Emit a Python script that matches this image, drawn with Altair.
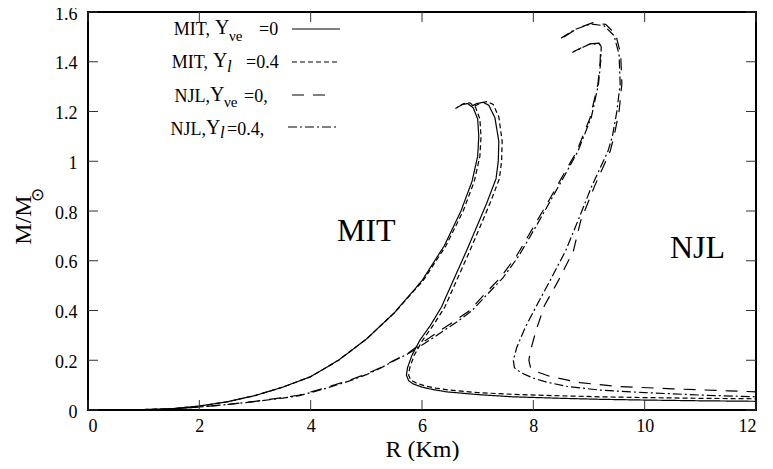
import altair as alt
import pandas as pd

FONT = "Liberation Serif"

# ---------------- data ----------------
# MIT, Y_nue = 0 (solid)
mit0_left_R = [1.0, 1.5, 2.0, 2.5, 3.0, 3.5, 4.0, 4.5, 5.0, 5.5, 6.0, 6.4, 6.7, 6.9, 7.0, 7.02, 7.0, 6.92, 6.82, 6.72, 6.6]
mit0_left_M = [0.002, 0.005, 0.016, 0.033, 0.058, 0.092, 0.134, 0.2, 0.285, 0.39, 0.52, 0.66, 0.8, 0.92, 1.02, 1.1, 1.17, 1.215, 1.232, 1.228, 1.212]
mit0_right_R = [6.88, 6.98, 7.1, 7.2, 7.31, 7.38, 7.37, 7.33, 7.16, 6.98, 6.8, 6.58, 6.35, 6.15, 5.96, 5.82, 5.74, 5.72, 5.76, 5.84, 6.0, 6.2, 6.44, 7.0, 7.63, 8.5, 9.2, 10.0, 11.0, 12.0]
mit0_right_M = [1.22, 1.232, 1.237, 1.225, 1.175, 1.08, 1.0, 0.93, 0.83, 0.735, 0.64, 0.53, 0.414, 0.34, 0.28, 0.22, 0.17, 0.14, 0.118, 0.105, 0.092, 0.082, 0.073, 0.062, 0.053, 0.047, 0.043, 0.04, 0.037, 0.035]

# MIT, Y_l = 0.4 (short dash)
mit4_left_R = [1.0, 1.5, 2.0, 2.5, 3.0, 3.5, 4.0, 4.5, 5.0, 5.5, 6.02, 6.43, 6.74, 6.94, 7.04, 7.06, 7.04, 6.96, 6.86, 6.75, 6.63]
mit4_left_M = [0.002, 0.005, 0.016, 0.033, 0.058, 0.092, 0.134, 0.2, 0.285, 0.39, 0.52, 0.66, 0.8, 0.92, 1.02, 1.1, 1.17, 1.218, 1.235, 1.232, 1.216]
mit4_right_R = [6.95, 7.05, 7.17, 7.28, 7.38, 7.44, 7.43, 7.39, 7.22, 7.04, 6.86, 6.64, 6.41, 6.2, 6.01, 5.86, 5.78, 5.76, 5.8, 5.9, 6.05, 6.25, 6.5, 7.0, 7.63, 8.5, 9.2, 10.0, 11.0, 12.0]
mit4_right_M = [1.222, 1.234, 1.24, 1.228, 1.178, 1.08, 1.0, 0.93, 0.83, 0.735, 0.64, 0.53, 0.414, 0.34, 0.28, 0.22, 0.17, 0.14, 0.12, 0.108, 0.097, 0.088, 0.08, 0.07, 0.063, 0.057, 0.053, 0.05, 0.047, 0.045]

# NJL, Y_nue = 0 (long dash)
njl0_left_R = [1.0, 1.5, 2.0, 2.5, 3.0, 3.5, 3.8, 4.2, 4.7, 5.0, 5.25, 5.5, 5.75, 6.0, 6.3, 6.6, 6.86, 7.1, 7.4, 7.7, 8.0, 8.3, 8.55, 8.78, 9.02, 9.16, 9.2, 9.21, 9.18, 9.0, 8.72]
njl0_left_M = [0.001, 0.004, 0.012, 0.022, 0.035, 0.05, 0.06, 0.085, 0.12, 0.145, 0.17, 0.2, 0.228, 0.27, 0.315, 0.36, 0.40, 0.46, 0.53, 0.62, 0.735, 0.85, 0.95, 1.04, 1.175, 1.31, 1.4, 1.46, 1.475, 1.472, 1.44]
njl0_right_R = [8.55, 8.8, 9.07, 9.3, 9.48, 9.57, 9.59, 9.54, 9.45, 9.38, 9.1, 8.85, 8.72, 8.45, 8.2, 8.05, 7.95, 7.92, 7.95, 8.05, 8.3, 8.84, 9.5, 10.5, 11.5, 12.0]
njl0_right_M = [1.50, 1.535, 1.557, 1.55, 1.51, 1.43, 1.31, 1.2, 1.1, 1.04, 0.9, 0.76, 0.64, 0.52, 0.42, 0.32, 0.24, 0.2, 0.17, 0.155, 0.135, 0.11, 0.095, 0.085, 0.077, 0.073]

# NJL, Y_l = 0.4 (dash-dot)
njl4_left_R = [1.0, 1.5, 2.0, 2.5, 3.0, 3.5, 3.8, 4.2, 4.7, 5.0, 5.25, 5.5, 5.75, 6.05, 6.35, 6.65, 6.9, 7.15, 7.45, 7.74, 8.04, 8.33, 8.58, 8.8, 9.04, 9.17, 9.21, 9.22, 9.19, 9.0, 8.7]
njl4_left_M = [0.001, 0.004, 0.012, 0.022, 0.034, 0.048, 0.058, 0.082, 0.117, 0.142, 0.168, 0.198, 0.226, 0.268, 0.313, 0.358, 0.40, 0.46, 0.53, 0.62, 0.735, 0.85, 0.95, 1.04, 1.175, 1.31, 1.4, 1.46, 1.472, 1.47, 1.437]
njl4_right_R = [8.5, 8.75, 9.03, 9.27, 9.45, 9.54, 9.56, 9.5, 9.42, 9.34, 9.05, 8.8, 8.58, 8.3, 8.06, 7.85, 7.7, 7.64, 7.66, 7.78, 8.0, 8.24, 8.6, 9.2, 10.0, 11.0, 12.0]
njl4_right_M = [1.495, 1.53, 1.552, 1.545, 1.505, 1.43, 1.31, 1.2, 1.1, 1.04, 0.9, 0.76, 0.64, 0.52, 0.42, 0.33, 0.25, 0.2, 0.17, 0.15, 0.128, 0.112, 0.095, 0.08, 0.07, 0.06, 0.053]

x_ticks = [0, 2, 4, 6, 8, 10, 12]
y_ticks = [0, 0.2, 0.4, 0.6, 0.8, 1.0, 1.2, 1.4, 1.6]

label_text = ["MIT", "NJL"]
label_R = [5.0, 10.95]
label_M = [0.72, 0.65]

# ---------------- build tables ----------------
def branch(series, name, R, M):
    return pd.DataFrame({"R": R, "M": M, "series": series, "key": series + "-" + name,
                         "idx": list(range(len(R)))})

curves = {
    "mit0": pd.concat([branch("mit0", "l", mit0_left_R, mit0_left_M), branch("mit0", "r", mit0_right_R, mit0_right_M)]),
    "mit4": pd.concat([branch("mit4", "l", mit4_left_R, mit4_left_M), branch("mit4", "r", mit4_right_R, mit4_right_M)]),
    "njl0": pd.concat([branch("njl0", "l", njl0_left_R, njl0_left_M), branch("njl0", "r", njl0_right_R, njl0_right_M)]),
    "njl4": pd.concat([branch("njl4", "l", njl4_left_R, njl4_left_M), branch("njl4", "r", njl4_right_R, njl4_right_M)]),
}
dashes = {"mit0": [1, 0], "mit4": [5, 3], "njl0": [12, 9], "njl4": [9, 3, 2, 3]}

W, H = 668, 398
xs = alt.Scale(domain=[0, 12], nice=False, zero=False)
ys = alt.Scale(domain=[0, 1.6], nice=False, zero=False)

XAX = alt.Axis(values=x_ticks, ticks=False, domain=False, grid=False,
               labelFont=FONT, labelFontSize=18, labelColor="black",
               labelPadding=7, title="R (Km)", titleFont=FONT,
               titleFontSize=24, titleFontWeight="normal",
               titleColor="black", titlePadding=2)
YAX = alt.Axis(values=y_ticks, ticks=False, domain=False, grid=False,
               labelFont=FONT, labelFontSize=18, labelColor="black",
               labelPadding=11, labelOffset=2, format=".1~f", title=" ")

layers = []
for k, df in curves.items():
    layers.append(
        alt.Chart(df).mark_line(color="black", strokeWidth=1.2, strokeDash=dashes[k], clip=True)
        .encode(x=alt.X("R:Q", scale=xs, axis=XAX), y=alt.Y("M:Q", scale=ys, axis=YAX),
                detail="key:N", order="idx:Q")
    )

# inward ticks on all four sides
xt = pd.DataFrame({"R": x_ticks})
yt = pd.DataFrame({"M": y_ticks})
tick_col = "#333"
layers.append(alt.Chart(xt).mark_rule(color=tick_col, strokeWidth=1)
              .encode(x=alt.X("R:Q", scale=xs, axis=XAX), y=alt.value(H), y2=alt.value(H - 10)))
layers.append(alt.Chart(xt).mark_rule(color=tick_col, strokeWidth=1)
              .encode(x=alt.X("R:Q", scale=xs, axis=XAX), y=alt.value(0), y2=alt.value(10)))
layers.append(alt.Chart(yt).mark_rule(color=tick_col, strokeWidth=1)
              .encode(y=alt.Y("M:Q", scale=ys, axis=YAX), x=alt.value(0), x2=alt.value(10)))
layers.append(alt.Chart(yt).mark_rule(color=tick_col, strokeWidth=1)
              .encode(y=alt.Y("M:Q", scale=ys, axis=YAX), x=alt.value(W), x2=alt.value(W - 10)))

# big labels
lab = pd.DataFrame({"t": label_text, "R": label_R, "M": label_M})
layers.append(alt.Chart(lab).mark_text(font=FONT, fontSize=32, color="black", baseline="middle", align="center")
              .encode(x=alt.X("R:Q", scale=xs, axis=XAX), y=alt.Y("M:Q", scale=ys, axis=YAX), text="t:N"))

one = alt.Data(values=[{"a": 1}])


def txt(s, x, y, size, align="left", angle=0, style="normal", baseline="alphabetic"):
    kw = dict(text=s, font=FONT, fontSize=size, color="black", align=align, baseline=baseline, fontStyle=style)
    if angle:
        kw["angle"] = angle
    return alt.Chart(one).mark_text(**kw).encode(x=alt.value(x), y=alt.value(y))


def seg(x1, x2, y, dash):
    return alt.Chart(one).mark_rule(color="black", strokeWidth=1.2, strokeDash=dash).encode(
        x=alt.value(x1), x2=alt.value(x2), y=alt.value(y))


# legend
layers += [
    txt("MIT,", 122, 23, 18, align="right"), txt("Y", 127, 22, 20), txt("νe", 141, 29, 15), txt("=0", 171, 23, 18),
    seg(204, 252, 17, dashes["mit0"]),
    txt("MIT,", 120, 56, 18, align="right"), txt("Y", 125, 55, 20), txt("l", 139, 60, 17, style="italic"),
    txt("=0.4", 158, 56, 18),
    seg(204, 252, 50, dashes["mit4"]),
    txt("NJL,", 122, 90, 18, align="right"), txt("Y", 122, 89, 20), txt("νe", 136, 95, 15), txt("=0,", 156, 90, 18),
    seg(204, 245, 83, dashes["njl0"]),
    txt("NJL,", 118, 123, 18, align="right"), txt("Y", 118, 122, 20), txt("l", 132, 126, 17, style="italic"),
    txt("=0.4,", 139, 123, 18),
    seg(200, 249, 115, dashes["njl4"]),
]

# y-axis title with subscript
layers += [
    txt("M/M", -64, 208, 24, align="center", angle=270, baseline="middle"),
    txt("⊙", -50, 183, 17, align="center", angle=270, baseline="middle"),
]

chart = alt.layer(*layers).properties(
    width=W, height=H,
    autosize=alt.AutoSizeParams(type="none"),
    padding={"left": 80, "top": 4, "right": 9, "bottom": 51},
).configure_view(stroke="black", strokeWidth=2).configure_axis(
    labelFont=FONT, titleFont=FONT
).configure_text(font=FONT)

chart.save("out.html", embed_options={"renderer": "svg", "actions": False})
